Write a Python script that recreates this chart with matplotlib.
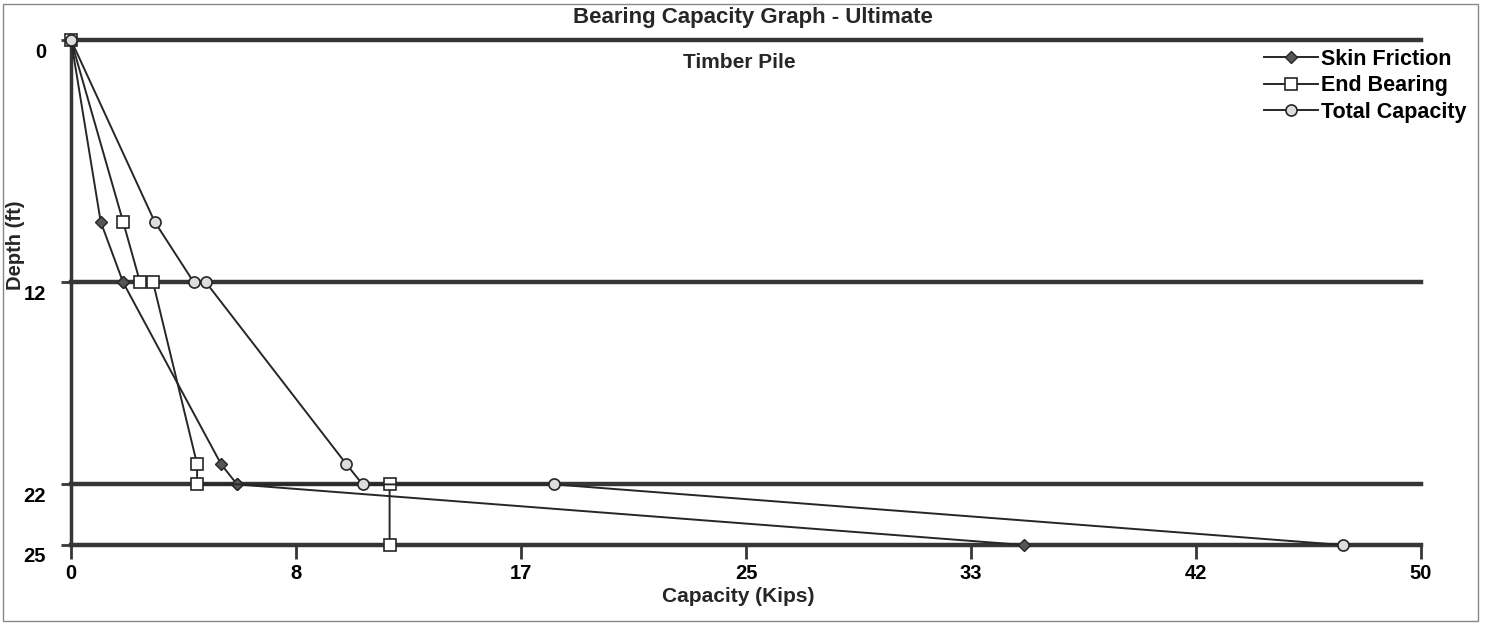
import matplotlib
matplotlib.use('Agg')
import matplotlib.pyplot as plt
import matplotlib.transforms as mtransforms
from matplotlib.patches import Rectangle

# depth (ft) and capacity (kips)
depth = [0, 9, 12, 12, 21, 22, 22, 25]
skin_friction = [0, 1.1, 1.93, 1.93, 5.56, 6.15, 6.15, 35.3]
end_bearing = [0, 1.93, 2.56, 3.04, 4.67, 4.67, 11.8, 11.8]
total_capacity = [0, 3.1, 4.55, 5.0, 10.2, 10.8, 17.9, 47.1]

layer_depths = [0, 12, 22, 25]
x_ticks = [0, 50 / 6, 100 / 6, 25, 200 / 6, 250 / 6, 50]
x_tick_labels = ['0', '8', '17', '25', '33', '42', '50']

plt.rcParams['font.family'] = ['Liberation Sans', 'DejaVu Sans']
plt.rcParams['font.weight'] = 'bold'

W, H = 1486, 625
fig = plt.figure(figsize=(W / 100, H / 100), dpi=100)
fig.patch.set_facecolor('white')

ax = fig.add_axes([71 / W, 1 - 545 / H, (1421 - 71) / W, (545 - 40) / H])
ink = '#262626'

# layer boundaries
for d in layer_depths:
    ax.axhline(d, color='#363636', lw=3.2, zorder=1, clip_on=False)

ax.plot(skin_friction, depth, color=ink, lw=1.4, marker='D', ms=6,
        mfc='#555555', mec=ink, mew=1.0, label='Skin Friction', zorder=3, clip_on=False)
ax.plot(end_bearing, depth, color=ink, lw=1.4, marker='s', ms=8,
        mfc='white', mec=ink, mew=1.2, label='End Bearing', zorder=3, clip_on=False)
ax.plot(total_capacity, depth, color=ink, lw=1.4, marker='o', ms=8,
        mfc='#dddddd', mec=ink, mew=1.2, label='Total Capacity', zorder=3, clip_on=False)

ax.set_xlim(0, 50)
ax.set_ylim(25, 0)
for s in ['top', 'right', 'bottom']:
    ax.spines[s].set_visible(False)
ax.spines['left'].set_linewidth(2.5)
ax.spines['left'].set_color('#363636')

ax.set_xticks(x_ticks)
ax.set_xticklabels(x_tick_labels)
ax.set_yticks(layer_depths)
ax.set_yticklabels([str(d) for d in layer_depths])
ax.tick_params(axis='x', length=10, width=2, color='#363636', pad=4, labelsize=14.5)
ax.tick_params(axis='y', length=7, width=2, color='#363636', pad=11, labelsize=14.5)
offset = mtransforms.ScaledTranslation(0, -10 / 100, fig.dpi_scale_trans)
for lab in ax.get_yticklabels():
    lab.set_transform(lab.get_transform() + offset)

ax.text(0.495, 0.955, 'Timber Pile', transform=ax.transAxes, ha='center',
        va='center', fontsize=15, fontweight='bold', color=ink)

fig.text(753 / W, 1 - 18 / H, 'Bearing Capacity Graph - Ultimate', ha='center',
         va='center', fontsize=16, fontweight='bold', color=ink)
fig.text(738 / W, 1 - 597 / H, 'Capacity (Kips)', ha='center', va='center',
         fontsize=15, fontweight='bold', color=ink)
fig.text(16 / W, 1 - 245 / H, 'Depth (ft)', ha='center', va='center',
         rotation=90, fontsize=14.5, fontweight='bold', color=ink)

fig.legend(loc='upper left', bbox_to_anchor=(1264 / W, 1 - 49 / H), frameon=False,
           fontsize=15.5, handlelength=2.5, handletextpad=0.15, labelspacing=0.25,
           borderpad=0, borderaxespad=0)

# outer frame of the report graphic
fig.add_artist(Rectangle((3 / W, 4 / H), (1478 - 3) / W, (621 - 4) / H,
                         transform=fig.transFigure, fill=False, lw=1.0,
                         ec='#888888'))

plt.savefig('out.png', dpi=100)
